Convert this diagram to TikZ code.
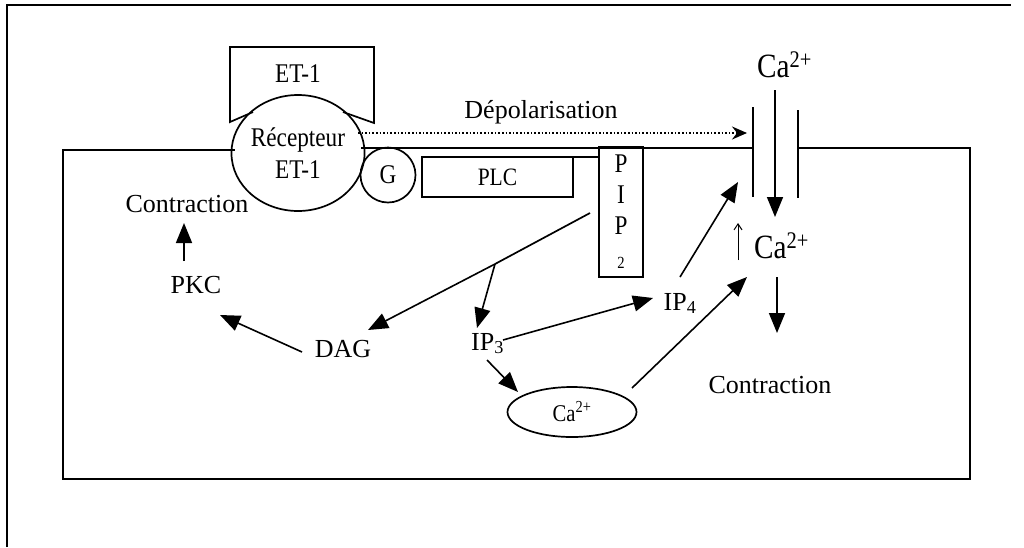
\documentclass[tikz,border=0pt]{standalone}
\usepackage{fontspec}
\setmainfont{Liberation Serif}
\newfontfamily\condfont{Liberation Serif}[FakeStretch=0.86]
\usetikzlibrary{arrows.meta,calc,shapes.geometric}
\begin{document}
\begin{tikzpicture}[x=1pt,y=-1pt,
  every node/.style={inner sep=0pt, outer sep=0pt},
  ln/.style={line width=1.7pt},
  arr/.style={line width=1.6pt,-{Triangle[length=20pt,width=16pt]}},
  big/.style={font=\fontsize{26}{30}\selectfont, anchor=base},
  boxfont/.style={font=\condfont\fontsize{27}{32}\selectfont},
  catext/.style={font=\condfont\fontsize{34}{36}\selectfont, anchor=base},
]
\useasboundingbox[fill=white] (0,0) rectangle (1024,547);

% outer frame
\draw[ln] (7,547) -- (7,5) -- (1011,5);

% receptor and ligand
\node[draw, ln, ellipse, minimum width=127pt, minimum height=116pt, boxfont, align=center] (rec) at (298,153) {Récepteur\\ET-1};
\draw[ln] ($(rec)+(-45,-41)$) -- (230,122) -- (230,47) -- (374,47) -- (374,123) -- ($(rec)+(45,-41)$);
\node[boxfont, anchor=base] (et) at (298,82) {ET-1};

% G, PLC, PIP2
\node[draw, ln, circle, minimum size=55pt, boxfont] (g) at (388,175) {G};
\node[draw, ln, rectangle, minimum width=151pt, minimum height=40pt, font=\condfont\fontsize{25}{30}\selectfont] (plc) at (497.5,177) {PLC};
\node[draw, ln, rectangle, minimum width=44pt, minimum height=130pt] (pip) at (621,212) {};
\node[boxfont, anchor=base] (pipa) at (621,172) {P};
\node[boxfont, anchor=base] (pipb) at (621,203) {I};
\node[boxfont, anchor=base] (pipc) at (621,234) {P};
\node[font=\condfont\fontsize{17}{19}\selectfont, anchor=base] (pipd) at (621,268) {2};
\draw[ln] (plc.north east) -- (plc.north east -| pip.west);

% cell membrane and channel
\coordinate (chan) at (775,148);
\draw[ln] ($(rec)+(-63.4,-3)$) -- (63,150) -- (63,479) -- (970,479) -- (970,148) -- ($(chan)+(23,0)$);
\draw[ln] ($(rec)+(63.3,-5)$) -- ($(chan)+(-22,0)$);
\draw[ln] ($(chan)+(-22,-41)$) -- ($(chan)+(-22,49)$);
\draw[ln] ($(chan)+(23,-38)$) -- ($(chan)+(23,50)$);

% Ca store
\node[draw, ln, ellipse, minimum width=129pt, minimum height=50pt, font=\condfont\fontsize{24}{26}\selectfont] (caell) at (572,412) {Ca\textsuperscript{2+}};

% text labels
\node[big] (dep) at (541,118) {Dépolarisation};
\node[catext] (catop) at (784.5,77) {Ca\textsuperscript{2+}};
\node[catext] (camid) at (781.5,258) {Ca\textsuperscript{2+}};
\node[big] (contrR) at (770,393) {Contraction};
\node[big] (contrL) at (187,212) {Contraction};
\node[big] (pkc) at (196,293) {PKC};
\node[big] (dag) at (343,357) {DAG};
\node[big] (ip3) at (487.5,350) {IP\textsubscript{3}};
\node[big] (ip4) at (680,310) {IP\textsubscript{4}};

% connectors
\coordinate (pipout) at ($(pip.west)+(-9,1)$);
\coordinate (br) at (495,264);
\draw[ln] (pipout) -- (br);
\draw[arr] (br) -- ($(dag.base)+(25,-27)$);
\draw[arr] (br) -- ($(ip3.base)+(-10.5,-22)$);
\draw[arr] ($(dag.base)+(-41,-5)$) -- ($(pkc.base)+(24,22)$);
\draw[arr] ($(pkc.base)+(-12,-32)$) -- ($(contrL.base)+(-3,11)$);
\draw[arr] ($(ip3.base)+(15.5,-10)$) -- ($(ip4.base)+(-27,-12)$);
\draw[arr] ($(ip3.base)+(-0.5,10)$) -- ($(caell)+(-54,-20)$);
\draw[arr] ($(ip4.base)+(0,-33)$) -- ($(chan)+(-37,34)$);
\draw[arr] ($(caell)+(60,-24)$) -- ($(camid.base)+(-34.5,19)$);
\draw[arr] ($(catop.base)+(-9.5,13)$) -- ($(camid.base)+(-6.5,-41)$);
\draw[arr] ($(camid.base)+(-4.5,19)$) -- ($(contrR.base)+(7,-60)$);
\draw[line width=1pt, -{Straight Barb[length=6pt,width=8pt]}] ($(camid.base)+(-43.5,2)$) -- ($(camid.base)+(-43.5,-35)$);
\draw[line width=1.6pt, dotted, -{Stealth[length=15pt,width=13pt,inset=5pt]}] ($(rec)+(60,-20)$) -- ($(chan)+(-28,-15)$);
\end{tikzpicture}
\end{document}
